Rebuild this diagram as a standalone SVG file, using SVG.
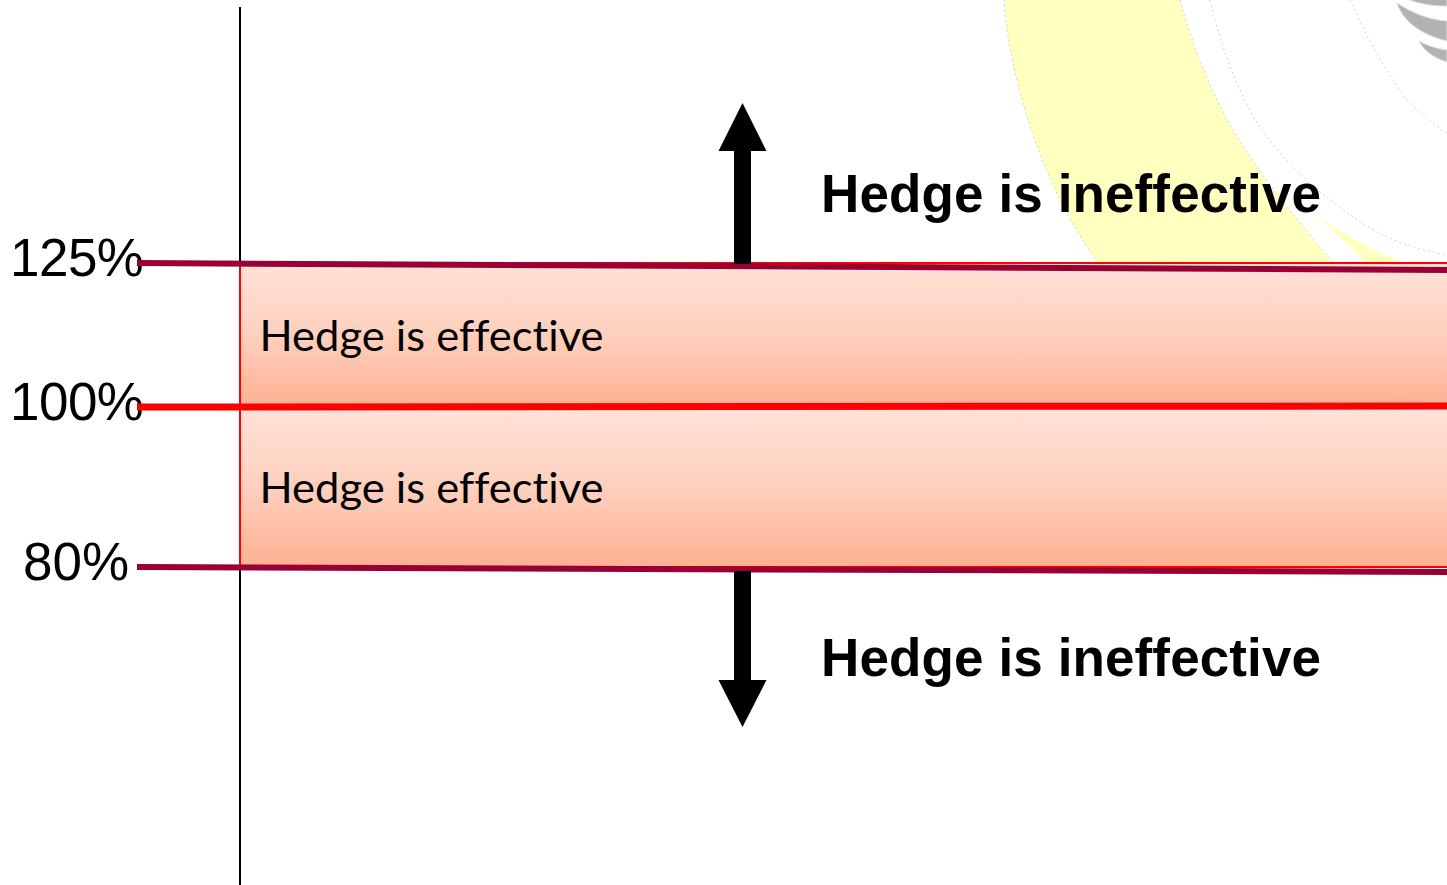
<svg xmlns="http://www.w3.org/2000/svg" width="1447" height="885" viewBox="0 0 1447 885">
<style>
.pct{font:53px "Liberation Sans",Arial,sans-serif;fill:#000}
.bold{font:bold 53px "Liberation Sans",Arial,sans-serif;fill:#000}
.eff{font:42px Lato,"Noto Sans",sans-serif;fill:#000;font-variant-ligatures:none}
.band{fill:url(#bandGrad);stroke:#ff0000;stroke-width:2}
.limit{stroke:#990033;stroke-width:6;fill:none}
.faint{fill:none;stroke:#d4d4d4;stroke-width:1;stroke-dasharray:2 3}
.grey{fill:#b2b2b2;stroke:#e0e0e0;stroke-width:1}
</style>
<defs>
<linearGradient id="bandGrad" x1="0" y1="0" x2="0" y2="1">
<stop offset="0" stop-color="#ffe2d9"/>
<stop offset="0.5" stop-color="#fed0bd"/>
<stop offset="1" stop-color="#feb092"/>
</linearGradient>
</defs>
<g id="background-swoosh">
<path d="M1004 0H1180C1197 62 1222 118 1257 167C1280 200 1308 232 1333 264H1098C1040 185 1008 70 1004 0Z" fill="#ffffc0"/>
<path d="M1313 213C1340 232 1372 250 1405 264H1367C1350 246 1332 229 1313 213Z" fill="#ffffc0"/>
<path class="faint" d="M1004 0C1008 70 1040 185 1098 262"/>
<path class="faint" d="M1180 0C1197 62 1222 118 1257 167C1280 200 1308 232 1333 262"/>
<path class="faint" d="M1210 0C1222 52 1238 90 1257 123C1285 165 1325 200 1373 230C1395 242 1420 250 1447 255"/>
<path class="faint" d="M1350 0C1366 35 1385 72 1407 100C1420 113 1433 124 1447 133"/>
<path class="grey" d="M1405 -2C1418 4 1432 6 1447 6V-2Z"/>
<path class="grey" d="M1397 3C1412 13 1430 20 1447 21V41C1422 35 1403 22 1397 3Z"/>
<path class="grey" d="M1419 41C1428 46 1438 49 1447 50V62C1434 58 1424 51 1419 41Z"/>
</g>
<g id="axis"><line x1="240" y1="7" x2="240" y2="885" stroke="#000" stroke-width="2"/></g>
<g id="band-upper"><rect class="band" x="240" y="263" width="1209" height="144"/>
<text class="eff" x="259.500" y="351" textLength="344" lengthAdjust="spacingAndGlyphs">Hedge is effective</text></g>
<g id="band-lower"><rect class="band" x="240" y="407" width="1209" height="160"/>
<text class="eff" x="259.500" y="503" textLength="344" lengthAdjust="spacingAndGlyphs">Hedge is effective</text></g>
<g id="label-125"><text class="pct" x="10" y="276" textLength="134">125%</text></g>
<g id="label-100"><text class="pct" x="10" y="420" textLength="134">100%</text></g>
<g id="label-80"><text class="pct" x="23" y="580">80%</text></g>
<g id="label-ineffective-top"><text class="bold" x="821" y="212" textLength="500">Hedge is ineffective</text></g>
<g id="label-ineffective-bottom"><text class="bold" x="821" y="676" textLength="500">Hedge is ineffective</text></g>
<g id="connectors">
<line class="limit" x1="137" y1="263" x2="1447" y2="270"/>
<line x1="137" y1="407" x2="1447" y2="406" stroke="#ff0000" stroke-width="7"/>
<line class="limit" x1="137" y1="567" x2="1447" y2="572"/>
<path d="M734 264V151H718.500L742.500 103L766.500 151H751V264Z" fill="#000"/>
<path d="M734 571V680H718.500L742.500 727L766.500 680H751V571Z" fill="#000"/>
</g>
</svg>
